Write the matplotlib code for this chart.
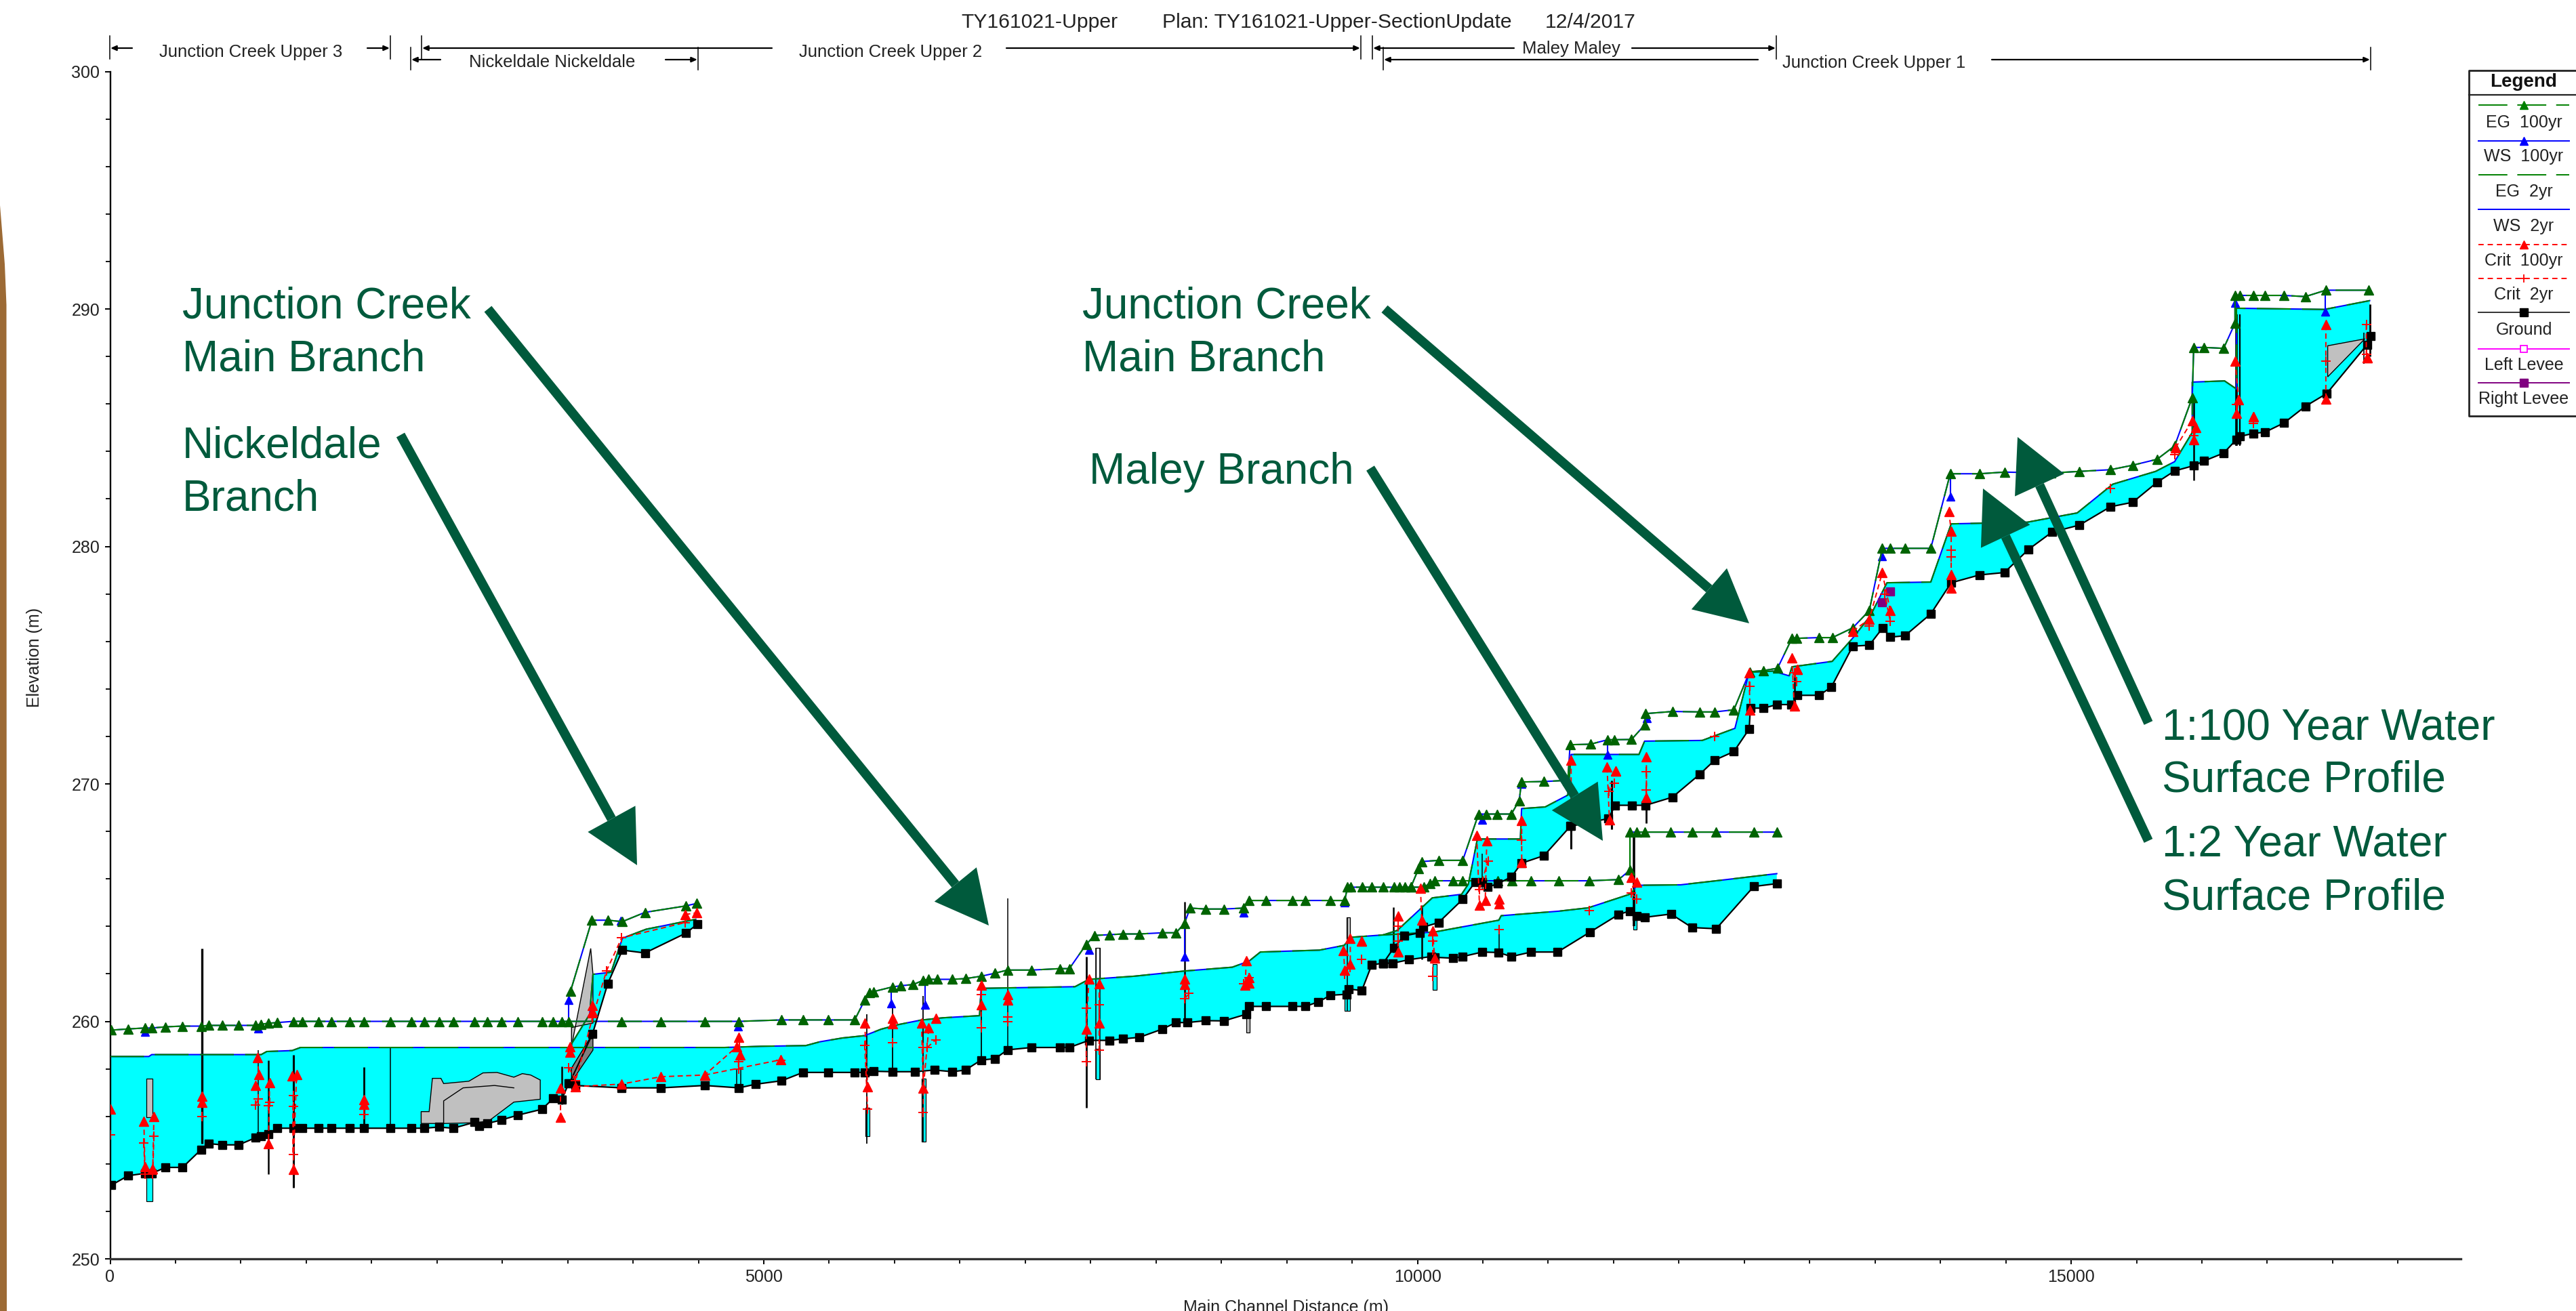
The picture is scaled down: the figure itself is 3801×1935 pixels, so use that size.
import numpy as np
import matplotlib
matplotlib.use("Agg")
import matplotlib.pyplot as plt
from matplotlib.ticker import MultipleLocator

plt.rcParams['font.family'] = ['Liberation Sans', 'DejaVu Sans']

# ground, lower reach up to the Maley / Upper 1 split
ground_low_x = [9,137,266,318,425,554,696,756,859,984,
                1112,1155,1211,1280,1400,1469,1593,1692,1830,1941,
                2143,2302,2401,2517,2624,2787,2822,2886,2994,3118,
                3303,3389,3453,3509,3560,3913,4213,4548,4810,4935,
                5137,5300,5493,5695,5772,5837,5983,6155,6305,6443,
                6542,6662,6769,6864,7049,7264,7337,7487,7646,7745,
                7874,8046,8153,8240,8381,8519,8690,8712,8841,9043,
                9142,9241,9336,9456,9474,9574,9650,9738]
ground_low_y = [253.1,253.5,253.6,253.6,253.85,253.85,254.6,254.85,254.8,254.8,
                255.1,255.15,255.25,255.5,255.5,255.5,255.5,255.5,255.5,255.5,
                255.5,255.5,255.5,255.55,255.5,255.75,255.6,255.7,255.85,256.05,
                256.3,256.75,256.7,257.4,257.3,257.2,257.2,257.3,257.2,257.35,
                257.5,257.85,257.85,257.85,257.85,257.9,257.88,257.88,257.95,257.88,
                257.95,258.37,258.43,258.8,258.9,258.9,258.9,259.2,259.2,259.26,
                259.33,259.67,259.95,259.95,260.03,260.02,260.3,260.63,260.63,260.63,
                260.63,260.82,261.1,261.14,261.36,261.3,262.38,262.45]
ground_maley_x = [9738,9810,9937,10104,10130,10274,10346,10496,10619,10718,10870,
                  11072,11317,11538,11625,11677,11737,11939,12100,12285,12572,12748]
ground_maley_y = [262.45,262.45,262.6,262.73,262.7,262.66,262.73,262.92,262.9,262.73,262.92,
                  262.92,263.75,264.5,264.65,264.45,264.38,264.52,263.95,263.9,265.68,265.8]
ground_up_x = [9738,9819,9897,10018,10044,10161,10346,10441,10493,10536,
               10614,10718,10795,10968,11170,11175,11460,11512,11642,11746,
               11950,12160,12273,12420,12537,12546,12648,12748,12860,12907,
               13071,13165,13329,13456,13558,13616,13729,13926,14082,14300,
               14489,14675,14853,15064,15300,15471,15657,15791,15937,16017,
               16166,16264,16290,16392,16482,16628,16791,16955,17264,17293]
ground_up_y = [262.45,263.1,263.6,263.73,263.97,264.16,265.14,265.87,265.87,265.65,
               265.8,266.08,266.66,266.98,268.22,268.22,268.54,269.1,269.1,269.1,
               269.44,270.41,271.0,271.36,272.31,273.19,273.19,273.34,273.34,273.73,
               273.73,274.07,275.8,275.84,276.57,276.18,276.24,277.16,278.47,278.8,
               278.9,279.88,280.6,280.9,281.67,281.86,282.7,283.18,283.4,283.6,
               283.93,284.5,284.63,284.76,284.81,285.2,285.9,286.44,288.5,288.86]
ground_nick_x = [3512,3690,3806,3918,4091,4402,4492]
ground_nick_y = [257.38,259.48,261.58,263.0,262.88,263.71,264.09]

# 2yr water surface
ws2_low_x = [0,296,318,1155,1198,1392,1456,4699,4978,5321,5429,5601,5772,5897,6026,6198,
             6370,6650,6662,7380,7487,7831,8218,8583,8712,8798,9250,9439,9491,9738]
ws2_low_y = [258.52,258.52,258.6,258.6,258.73,258.77,258.9,258.9,258.95,258.98,259.14,259.3,259.4,259.67,259.86,260.05,
             260.15,260.24,261.39,261.46,261.77,261.9,262.12,262.28,262.54,262.92,263.0,263.2,263.54,263.64]
ws2_maley_x = [9738,10044,10147,10622,10640,11080,11305,11633,11677,12013,12316,12748]
ws2_maley_y = [263.64,263.73,263.78,264.26,264.45,264.64,264.78,265.37,265.73,265.75,265.94,266.22]
ws2_up_x = [9738,9845,10113,10337,10389,10458,10787,10796,10977,11150,11175,11694,11737,12178,12428,12536,12720,12843,12864,
            13172,13329,13464,13591,13926,14082,14664,15046,15318,15646,15791,15926,15926,16173,16264,16264,16937,17283]
ws2_up_y = [263.64,263.83,265.2,265.35,265.78,267.68,267.68,268.96,269.03,269.53,271.24,271.24,271.8,271.83,272.34,274.7,274.75,274.55,274.93,
            275.16,276.14,277.08,278.47,278.5,280.95,281.02,281.41,282.62,283.16,283.57,284.8,286.92,286.97,286.63,290.03,289.98,290.35]
ws2_nick_x = [3521,3668,3693,3832,3918,4100,4272,4480]
ws2_nick_y = [258.98,260.3,261.98,262.07,263.5,263.88,264.07,264.3]

# 100yr energy grade
eg100_x = [9,137,266,318,425,554,696,756,859,984,
           1112,1155,1211,1280,1400,1469,1593,1692,1830,1941,
           2143,2302,2401,2517,2624,2787,2886,2994,3118,3303,
           3389,3453,3509,3913,4213,4548,4810,5137,5300,5493,
           5695,5772,5807,5837,5983,6047,6142,6220,6262,6327,
           6443,6542,6662,6769,6864,7049,7264,7337,7466,7530,
           7646,7745,7874,8046,8153,8218,8261,8381,8519,8669,
           8712,8841,9043,9142,9336,9443,9465,9491,9577,9650,
           9738,9819,9862,9906,9949,10009,10035,10161,10346,10467,
           10528,10611,10718,10778,10795,10968,11150,11167,11322,11455,
           11507,11637,11737,11746,11953,12160,12273,12420,12540,12644,
           12754,12864,12900,13071,13173,13329,13456,13555,13616,13729,
           13926,14075,14300,14489,14846,15064,15300,15471,15657,15791,
           15926,15937,16017,16166,16253,16253,16290,16392,16482,16628,
           16791,16948,17275]
eg100_y = [259.63,259.68,259.72,259.72,259.77,259.8,259.8,259.83,259.83,259.83,
           259.83,259.88,259.92,259.95,260.0,260.0,260.0,260.0,260.0,260.0,
           260.0,260.0,260.0,260.0,260.0,260.0,260.0,260.0,260.0,260.0,
           260.0,260.0,260.0,260.0,260.0,260.0,260.0,260.06,260.06,260.06,
           260.06,260.9,261.2,261.25,261.45,261.5,261.55,261.73,261.77,261.77,
           261.77,261.8,261.9,262.03,262.16,262.16,262.22,262.22,263.24,263.62,
           263.65,263.68,263.68,263.73,263.73,264.13,264.77,264.73,264.73,264.77,
           265.09,265.09,265.09,265.09,265.09,265.09,265.65,265.65,265.65,265.65,
           265.65,265.65,265.65,265.65,265.65,266.44,266.73,266.78,266.78,268.73,
           268.73,268.73,268.73,269.3,270.08,270.1,270.15,271.65,271.67,271.86,
           271.86,271.87,272.48,272.96,273.05,273.03,273.03,273.12,274.72,274.77,
           274.87,276.13,276.13,276.16,276.16,276.57,277.3,279.92,279.92,279.92,
           279.92,283.06,283.06,283.13,283.09,283.16,283.23,283.42,283.67,284.23,
           286.27,288.38,288.38,288.34,289.4,290.57,290.57,290.57,290.57,290.57,
           290.52,290.79,290.79]
eg100_maley_x = [9949,10050,10096,10130,10274,10346,10493,10614,10721,10870,11080,11314,11538,11625,11625,11677,11737,11936,12100,12285,12572,12748]
eg100_maley_y = [265.65,265.65,265.82,265.92,265.92,265.92,265.92,265.92,265.92,265.92,265.92,265.92,265.97,266.37,267.97,267.97,267.97,267.97,267.97,267.97,267.97,267.97]
eg100_nick_x = [3521,3685,3806,3918,4091,4402,4488]
eg100_nick_y = [261.26,264.26,264.26,264.2,264.59,264.86,264.97]

# blue triangles and dips where the 100yr water surface sits below the EG line
ws100_dip_x = [266,1134,3904,3509,4802,5974,6232,8218,7487,8669,9443,10496,10797,11452,11754,14075,16253,16944,13555]
ws100_dip_y = [259.55,259.7,264.24,260.9,259.78,260.75,260.7,262.73,263.0,264.58,265.0,268.5,270.0,271.24,272.76,282.1,290.27,289.9,279.6]
ws100_top_y = [259.72,259.83,264.3,260.0,260.0,261.45,261.73,264.13,263.24,264.77,265.09,268.73,270.08,271.86,272.96,283.06,290.57,290.79,279.92]

# critical depth, nan breaks the chain between cross sections
crit100_x = [0,np.nan,258,266,np.nan,335,326,np.nan,704,704,np.nan,1125,1138,1112,np.nan,1220,1211,np.nan,1392,1426,1400,np.nan,1941,1941,np.nan,
             3445,3445,np.nan,3518,3518,np.nan,3689,3689,np.nan,3560,3913,4213,4548,4793,4819,4810,np.nan,4548,5128,np.nan,4398,4484,np.nan,5772,5794,np.nan,
             5983,5983,np.nan,6206,6220,6262,np.nan,6314,np.nan,6662,6662,np.nan,6864,6864,np.nan,7487,7466,np.nan,7565,7565,np.nan,8218,8218,np.nan,
             8690,8682,np.nan,8712,8712,np.nan,9434,9443,np.nan,9486,9486,np.nan,9572,9572,np.nan,9851,9851,np.nan,10023,10032,np.nan,10117,10130,np.nan,
             10453,10474,np.nan,10530,10518,np.nan,10625,10625,np.nan,10797,10797,np.nan,11175,11175,np.nan,11450,11468,np.nan,11515,11515,np.nan,
             11751,11751,np.nan,11635,11678,np.nan,12536,12543,np.nan,12864,12882,np.nan,12907,12907,np.nan,13329,13456,13555,13616,np.nan,
             14064,14082,14082,14082,np.nan,15798,15926,15955,15937,np.nan,16253,16282,16264,np.nan,16392,16392,np.nan,16948,16948,np.nan,17264,17264]
crit100_y = [256.3,np.nan,255.8,253.87,np.nan,256.0,253.8,np.nan,256.84,256.6,np.nan,258.47,257.77,257.3,np.nan,257.42,254.84,np.nan,257.7,257.77,253.76,np.nan,256.5,256.7,np.nan,
             257.2,255.97,np.nan,258.93,258.7,np.nan,260.67,260.4,np.nan,257.25,257.36,257.67,257.74,258.93,258.6,259.34,np.nan,257.74,258.38,np.nan,264.5,264.57,np.nan,259.92,257.24,np.nan,
             260.12,259.9,np.nan,259.93,257.18,259.73,np.nan,260.12,np.nan,261.52,260.7,np.nan,261.14,260.9,np.nan,261.77,259.67,np.nan,261.58,259.93,np.nan,261.77,261.55,np.nan,
             262.54,261.52,np.nan,261.84,261.6,np.nan,262.99,262.16,np.nan,263.5,262.4,np.nan,263.37,263.37,np.nan,264.45,262.92,np.nan,265.6,264.26,np.nan,263.82,262.67,np.nan,
             267.83,264.9,np.nan,267.6,265.09,np.nan,265.15,264.95,np.nan,268.47,266.69,np.nan,271.0,269.2,np.nan,270.7,268.5,np.nan,270.54,270.54,np.nan,
             271.15,269.43,np.nan,266.05,265.86,np.nan,274.68,273.12,np.nan,275.3,273.29,np.nan,274.82,274.82,np.nan,276.43,276.94,278.9,277.3,np.nan,
             281.48,280.65,278.83,278.25,np.nan,284.15,285.3,285.0,284.5,np.nan,287.8,286.19,285.6,np.nan,285.46,285.46,np.nan,289.33,286.2,np.nan,287.94,287.94]
crit2_x = [0,np.nan,258,266,np.nan,335,326,np.nan,704,np.nan,1134,1112,np.nan,1220,1211,np.nan,1400,1400,1400,np.nan,1941,np.nan,3509,3560,3689,3797,3913,4398,np.nan,
           4806,4806,np.nan,5128,np.nan,5772,5794,np.nan,5983,np.nan,6220,6220,np.nan,6250,6314,np.nan,6662,6662,np.nan,6864,6864,np.nan,7466,7466,np.nan,7565,7565,np.nan,
           8218,8252,np.nan,8669,8712,np.nan,9443,9486,np.nan,9572,np.nan,9851,9851,np.nan,10117,10117,np.nan,10625,np.nan,10474,10539,np.nan,10797,np.nan,
           11463,11506,np.nan,11312,np.nan,11635,11678,np.nan,11751,11751,np.nan,12274,np.nan,12543,np.nan,12882,12900,np.nan,13456,np.nan,13616,13573,np.nan,
           14082,14082,np.nan,15300,np.nan,15791,np.nan,15937,np.nan,16264,np.nan,16392,np.nan,16948,np.nan,17257,17257]
crit2_y = [255.23,np.nan,254.88,253.58,np.nan,255.17,253.58,np.nan,256.0,np.nan,256.72,256.49,np.nan,256.6,256.45,np.nan,256.87,254.4,256.43,np.nan,256.08,np.nan,258.05,257.5,260.15,262.13,263.52,264.16,np.nan,
           258.3,258.0,np.nan,258.35,np.nan,259.0,256.3,np.nan,259.1,np.nan,258.9,256.16,np.nan,258.9,259.22,np.nan,261.14,259.73,np.nan,260.18,260.0,np.nan,260.56,258.3,np.nan,260.7,258.78,np.nan,
           260.95,261.17,np.nan,261.58,261.84,np.nan,261.97,262.28,np.nan,262.6,np.nan,264.0,263.37,np.nan,263.37,261.9,np.nan,263.88,np.nan,265.54,266.75,np.nan,267.64,np.nan,
           269.68,270.03,np.nan,264.67,np.nan,265.41,265.15,np.nan,270.51,269.75,np.nan,272.0,np.nan,274.1,np.nan,274.68,274.32,np.nan,276.65,np.nan,276.86,278.0,np.nan,
           279.85,279.55,np.nan,282.45,np.nan,283.86,np.nan,284.66,np.nan,285.97,np.nan,285.17,np.nan,287.8,np.nan,289.33,288.1]

right_levee_x = [13613,13555]
right_levee_y = [278.1,277.64]

# bridge decks and culverts shown as black spikes
spike_x = [704,1211,1400,1941,2143,3453,1134,4790,4825,5786,5983,6220,6662,6864,7466,7539,7573,8218,9465,9817,10032,10625,
           10496,11175,11484,11656,11751,12882,15937,16264,16290,17283,17240]
spike_bot = [254.86,253.58,253.0,255.5,255.5,256.5,255.1,257.2,257.2,254.85,257.88,254.95,258.4,258.9,256.35,257.57,257.57,260.05,260.44,262.9,262.6,262.92,
             265.54,267.26,268.09,264.0,268.34,273.3,282.77,284.23,284.23,288.0,287.7]
spike_top = [263.06,258.35,258.58,258.06,258.87,258.1,258.8,258.0,258.0,260.3,260.56,261.07,261.46,265.18,262.73,263.1,263.1,265.03,264.39,264.8,264.9,263.9,
             267.07,268.2,270.13,267.83,269.24,274.7,286.27,289.77,289.77,290.2,289.0]
spike_lw = [2.4,1.8,2.2,2.0,1.1,1.8,1.1,1.1,1.1,1.3,1.3,1.3,1.3,1.1,2.0,1.1,1.1,1.8,1.1,1.8,1.8,1.1,
            1.1,2.2,2.2,2.6,2.0,1.8,1.8,2.6,1.6,2.0,1.2]

# narrow scour slots under culverts
slot_x0 = [275,5777,6206,7539,9443,10117,11648,8690,9456,7539,275]
slot_w = [51,30,35,34,43,29,30,26,30,34,51]
slot_bot = [252.42,255.15,254.95,257.57,260.44,261.33,263.88,259.54,263.5,261.8,255.95]
slot_top = [253.7,256.37,257.6,258.84,261.07,262.4,264.26,260.3,264.39,263.1,257.6]
slot_color = ['#00FFFF','#00FFFF','#00FFFF','#00FFFF','#00FFFF','#00FFFF','#00FFFF','#C0C0C0','#C0C0C0','#FFFFFF','#C0C0C0']

# grey blocked areas
block_x = [2379,2379,2440,2465,2530,2551,2744,2852,2959,3088,3153,3217,3290,3290,3088,2895,2787,2551]
block_y = [255.7,256.2,256.2,257.6,257.6,257.38,257.48,257.83,257.85,257.65,257.8,257.74,257.53,256.72,256.6,255.8,255.73,255.7]
block_in_x = [2551,2551,2700,2940,3088]
block_in_y = [255.7,256.65,257.2,257.3,257.2]
block_nick_x = [3529,3676,3693,3693,3529]
block_nick_y = [258.95,263.07,262.0,259.93,259.74]
block_nick2_x = [3529,3693,3693,3667,3529]
block_nick2_y = [257.46,258.79,259.27,259.27,258.03]
block_end_x = [16962,17246,16962]
block_end_y = [288.45,288.74,287.14]

xmajor = [0,5000,10000,15000]
ymajor = [250,260,270,280,290,300]

W, H = 3801, 1935
fig = plt.figure(figsize=(W/100, H/100), dpi=100)
ax = fig.add_axes([162.5/W, (H-1858)/H, (3631-162.5)/W, (1858-105.5)/H])
ax.set_xlim(0, 17980)
ax.set_ylim(250, 300)

# water
for wx, wy, gx, gy in [(ws2_low_x, ws2_low_y, ground_low_x, ground_low_y),
                       (ws2_maley_x, ws2_maley_y, ground_maley_x, ground_maley_y),
                       (ws2_up_x, ws2_up_y, ground_up_x, ground_up_y),
                       (ws2_nick_x, ws2_nick_y, ground_nick_x, ground_nick_y)]:
    ax.fill(wx + gx[::-1], wy + gy[::-1], color='#00FFFF', lw=0, zorder=1)

# blocked
ax.fill(block_x, block_y, fc='#C0C0C0', ec='black', lw=1.0, zorder=2)
ax.plot(block_in_x, block_in_y, color='black', lw=1.0, zorder=2)
ax.fill(block_nick_x, block_nick_y, fc='#C0C0C0', ec='black', lw=1.0, zorder=2)
ax.fill(block_nick2_x, block_nick2_y, fc='#808080', ec='black', lw=1.0, zorder=2)
ax.fill(block_end_x, block_end_y, fc='#C0C0C0', ec='black', lw=1.0, zorder=2)
ax.bar(slot_x0, np.array(slot_top)-np.array(slot_bot), width=slot_w, bottom=slot_bot, align='edge',
       color=slot_color, edgecolor='black', linewidth=0.9, zorder=2)

ax.vlines(spike_x, spike_bot, spike_top, colors='black', linewidths=spike_lw, zorder=3)

# 2yr: blue WS with dashed green EG on top
DASH = (0, (24, 8))
for wx, wy in [(ws2_low_x, ws2_low_y), (ws2_maley_x, ws2_maley_y), (ws2_up_x, ws2_up_y), (ws2_nick_x, ws2_nick_y)]:
    ax.plot(wx, wy, color='#0000FF', lw=1.5, zorder=4)
    ax.plot(wx, wy, color='#008000', lw=1.5, ls=DASH, zorder=4.2)

# 100yr
for ex, ey in [(eg100_x, eg100_y), (eg100_maley_x, eg100_maley_y), (eg100_nick_x, eg100_nick_y)]:
    ax.plot(ex, ey, color='#0000FF', lw=1.5, marker='^', ms=8, mec='#0000FF', zorder=4.4)
    ax.plot(ex, ey, color='#008000', lw=1.5, ls=DASH, marker='^', ms=10, mfc='#006400', mec='#006400', zorder=4.6)
ax.vlines(ws100_dip_x, ws100_dip_y, ws100_top_y, colors='#0000FF', linewidths=1.5, zorder=4.4)
ax.plot(ws100_dip_x, ws100_dip_y, ls='none', marker='^', ms=9, color='#0000FF', zorder=4.4)

# ground
for gx, gy in [(ground_low_x, ground_low_y), (ground_maley_x, ground_maley_y),
               (ground_up_x, ground_up_y), (ground_nick_x, ground_nick_y)]:
    ax.plot(gx, gy, color='black', lw=1.6, marker='s', ms=9, zorder=5)

ax.plot(right_levee_x, right_levee_y, ls='none', marker='s', ms=8, color='#800080', zorder=5.5)

# critical depth
ax.plot(crit100_x, crit100_y, color='#FF0000', lw=1.4, ls=(0, (4, 2.5)), marker='^', ms=10, mec='#FF0000', zorder=6)
ax.plot(crit2_x, crit2_y, color='#FF0000', lw=1.4, ls=(0, (4, 2.5)), marker='+', ms=10, mew=1.4, zorder=6)

for s in ['top', 'right']:
    ax.spines[s].set_visible(False)
ax.spines['left'].set_linewidth(1.7)
ax.spines['bottom'].set_linewidth(2.4)
ax.spines['bottom'].set_color('#333333')
ax.set_xticks(xmajor)
ax.set_yticks(ymajor)
ax.xaxis.set_minor_locator(MultipleLocator(500))
ax.yaxis.set_minor_locator(MultipleLocator(2))
ax.tick_params(axis='both', which='major', length=6, width=1.4, labelsize=18, labelcolor='#222222', pad=5)
ax.tick_params(axis='both', which='minor', length=5, width=1.3)

# page level layer, pixel coordinates
ov = fig.add_axes([0, 0, 1, 1], zorder=10)
ov.set_xlim(0, W)
ov.set_ylim(H, 0)
ov.axis('off')

# brown edge of the slide
ov.fill([0, 3, 7, 9.5, 10, 0], [303, 340, 390, 450, H, H], color='#9C6A35', lw=0)

GREEN = '#005A3C'
notes = [("Junction Creek", 269, 452), ("Main Branch", 269, 530),
         ("Nickeldale", 269, 658), ("Branch", 269, 736),
         ("Junction Creek", 1597, 452), ("Main Branch", 1597, 530),
         ("Maley Branch", 1607, 697),
         ("1:100 Year Water", 3190, 1075), ("Surface Profile", 3190, 1151),
         ("1:2 Year Water", 3190, 1247), ("Surface Profile", 3190, 1325)]
for t, x, y in notes:
    ov.text(x, y, t, fontsize=46, color=GREEN, va='center', ha='left')

arrows = [((720, 456), (1459, 1366)), ((591, 642), (940, 1277)), ((2043, 456), (2581, 920)),
          ((2022, 691), (2365, 1241)), ((3170, 1067), (2977, 645)), ((3170, 1241), (2926, 721))]
for (x0, y0), (x1, y1) in arrows:
    d = np.array([x1-x0, y1-y0], dtype=float)
    d /= np.hypot(*d)
    n = np.array([-d[1], d[0]])
    tip = np.array([x1, y1], dtype=float)
    base = tip - d*78
    ov.plot([x0, base[0]], [y0, base[1]], color=GREEN, lw=10, solid_capstyle='butt')
    ov.fill(*zip(tip, base+n*40, base-n*40), color=GREEN, lw=0)

# title
for t, x in [("TY161021-Upper", 1418), ("Plan: TY161021-Upper-SectionUpdate", 1715), ("12/4/2017", 2280)]:
    ov.text(x, 33, t, fontsize=21.7, color='#222222', va='center', ha='left')

# river reach brackets: tick x, row y, label, label x, line gaps
reach_text = [("Junction Creek Upper 3", 370, 77), ("Junction Creek Upper 2", 1314, 77),
              ("Nickeldale Nickeldale", 815, 92), ("Maley Maley", 2318, 72), ("Junction Creek Upper 1", 2765, 93)]
for t, x, y in reach_text:
    ov.text(x, y, t, fontsize=18.5, color='#222222', va='center', ha='center')
reach_ticks = [(162, 53, 87), (576, 53, 87), (622, 53, 87), (2008, 53, 87), (2025, 53, 87), (2621, 53, 87),
               (606, 70, 103), (1030, 70, 103), (2041, 70, 103), (3498, 70, 103)]
for x, y0, y1 in reach_ticks:
    ov.plot([x, x], [y0, y1], color='black', lw=1.1)
reach_lines = [(195, 163, 71), (542, 575, 71), (1139, 623, 71), (1485, 2007, 71), (2234, 2026, 71), (2408, 2620, 71),
               (650, 607, 88), (982, 1029, 88), (2594, 2042, 88), (2939, 3497, 88)]
for x0, x1, y in reach_lines:
    ov.annotate('', xy=(x1, y), xytext=(x0, y),
                arrowprops=dict(arrowstyle='-|>,head_length=0.5,head_width=0.22', color='black', lw=1.6,
                                shrinkA=0, shrinkB=0))

# axis titles
ov.text(51, 970, "Elevation (m)", fontsize=18, rotation=90, color='#222222', va='center', ha='center')
ov.text(1898, 1930, "Main Channel Distance (m)", fontsize=18, color='#222222', va='center', ha='center')

# legend table
LX0, LX1 = 3643, 3805
ov.plot([LX1, LX0, LX0, LX1], [104, 104, 614, 614], color='#222222', lw=2.0, clip_on=True)
ov.plot([LX0, LX1], [140, 140], color='#222222', lw=1.6)
ov.text(3724, 121, "Legend", fontsize=20, fontweight='bold', color='#111111', va='center', ha='center')
leg_labels = ["EG  100yr", "WS  100yr", "EG  2yr", "WS  2yr", "Crit  100yr", "Crit  2yr", "Ground", "Left Levee", "Right Levee"]
leg_line_y = [155, 207.5, 258, 308.6, 361, 411, 461, 515, 565]
leg_text_y = [181, 231, 282.5, 334, 385, 435, 487, 539, 589]
leg_style = [dict(color='#008000', ls=(0, (22, 7.5)), marker='^', ms=9),
             dict(color='#0000FF', ls='-', marker='^', ms=9),
             dict(color='#008000', ls=(0, (22, 7.5))),
             dict(color='#0000FF', ls='-'),
             dict(color='#FF0000', ls=(0, (4, 3)), marker='^', ms=9),
             dict(color='#FF0000', ls=(0, (4, 3)), marker='+', ms=9, mew=1.3),
             dict(color='#333333', ls='-', marker='s', ms=8, mfc='black', mec='black'),
             dict(color='#FF00FF', ls='-', marker='s', ms=7, mfc='white', mec='#FF00FF', mew=1.3),
             dict(color='#800080', ls='-', marker='s', ms=8)]
for lab, ly, ty, st in zip(leg_labels, leg_line_y, leg_text_y, leg_style):
    ov.plot([3657, 3724, 3791], [ly, ly, ly], lw=1.4, markevery=[1], **st)
    ov.text(3724, ty, lab, fontsize=18, color='#222222', va='center', ha='center')

fig.savefig('out.png', dpi=100)
